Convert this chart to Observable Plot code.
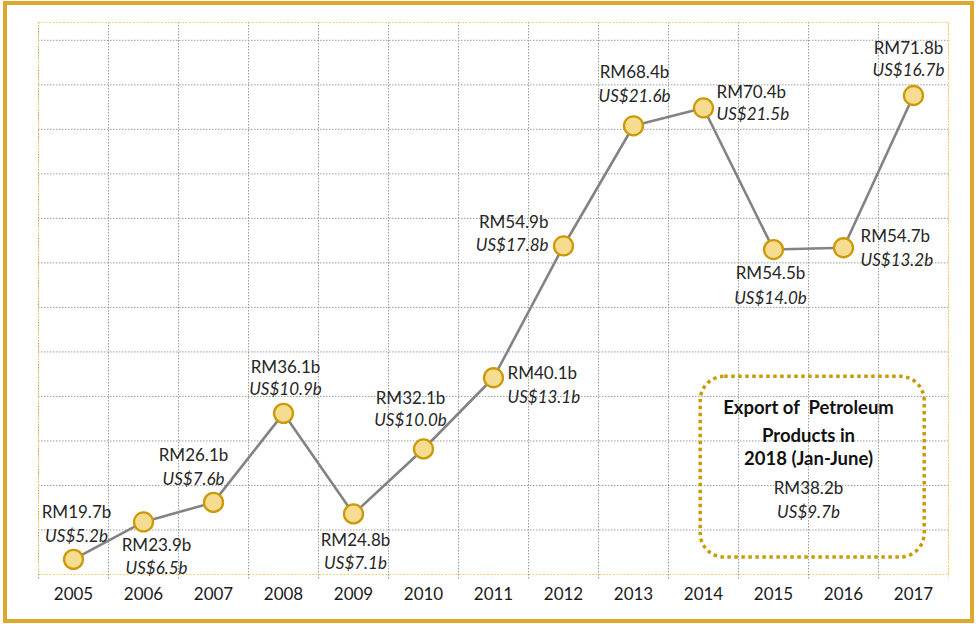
<!DOCTYPE html>
<html><head><meta charset="utf-8">
<script src="https://cdn.jsdelivr.net/npm/d3@7"></script>
<script src="https://cdn.jsdelivr.net/npm/@observablehq/plot@0.6"></script>
<style>
body{margin:0;background:#fff;}
#wrap{position:relative;width:979px;height:624px;overflow:hidden;background:#fff;}
#border{position:absolute;left:3px;top:1px;width:971px;height:622px;box-sizing:border-box;border:4px solid #DCA82E;pointer-events:none;}
#chart{position:absolute;left:0;top:0;}
</style></head><body>
<div id="wrap"><div id="chart"></div><div id="border"></div></div>
<script>
// ---- data ----
const years = [2005, 2006, 2007, 2008, 2009, 2010, 2011, 2012, 2013, 2014, 2015, 2016, 2017];
const yearLabels = ["2005","2006","2007","2008","2009","2010","2011","2012","2013","2014","2015","2016","2017"];
const rmValues = [19.7, 23.9, 26.1, 36.1, 24.8, 32.1, 40.1, 54.9, 68.4, 70.4, 54.5, 54.7, 71.8];
const usValues = [5.2, 6.5, 7.6, 10.9, 7.1, 10.0, 13.1, 17.8, 21.6, 21.5, 14.0, 13.2, 16.7];
const gridValues = [23, 28, 33, 38, 43, 48, 53, 58, 63, 68, 73, 78];
const noteTitle = ["Export of  Petroleum", "Products in", "2018 (Jan-June)"];
const noteRM = "RM38.2b";
const noteUS = "US$9.7b";

// ---- label layout (anchor, dx, dy for RM line, dy for US line) ----
const layout = {
  2005: ["middle", 3, -47, -23],
  2006: ["middle", 13, 24, 47],
  2007: ["middle", -20, -47, -23],
  2008: ["middle", 2, -46, -24],
  2009: ["middle", 2, 27, 50],
  2010: ["middle", -13, -50, -28],
  2011: ["start", 14, -4, 20],
  2012: ["end", -15, -23, 0],
  2013: ["middle", 1, -53, -29],
  2014: ["start", 13, -15, 7],
  2015: ["middle", -3, 24, 49],
  2016: ["start", 17, -11, 13],
  2017: ["middle", -5, -47, -25]
};

const rows = years.map((yr, i) => ({
  year: yr,
  rm: rmValues[i],
  rmText: "RM" + rmValues[i].toFixed(1) + "b",
  usText: "US$" + usValues[i].toFixed(1) + "b"
}));

const boundaries = years.map(y => y - 0.5);
const textColor = "#262626";

const labelMarks = rows.flatMap(r => {
  const [anchor, dx, dyRM, dyUS] = layout[r.year];
  return [
    Plot.text([r], {x: "year", y: "rm", text: "rmText", textAnchor: anchor, dx, dy: dyRM,
      fill: textColor, fontSize: 17}),
    Plot.text([r], {x: "year", y: "rm", text: "usText", textAnchor: anchor, dx, dy: dyUS,
      fill: textColor, fontSize: 17, fontStyle: "italic"})
  ];
});

const noteText = (txt, dy, extra) => Plot.text([txt], {x: () => 2015.5, frameAnchor: "top", lineAnchor: "middle",
  dy, fontSize: 17, fill: textColor, ...extra});

const chart = Plot.plot({
  width: 979,
  height: 624,
  marginLeft: 38,
  marginRight: 31,
  marginTop: 22,
  marginBottom: 50,
  style: {fontFamily: "Lato, 'Open Sans', sans-serif", fontSize: "17px", background: "transparent"},
  x: {domain: [2004.5, 2017.5], axis: null},
  y: {domain: [18, 80], axis: null},
  marks: [
    Plot.ruleY(gridValues, {stroke: "#9c9c9c", strokeWidth: 1, strokeDasharray: "1.5,1.5"}),
    Plot.ruleX(boundaries, {stroke: "#9c9c9c", strokeWidth: 1, strokeDasharray: "1.5,1.5", insetBottom: -5}),
    Plot.ruleX([2017.5], {stroke: "#F0D77E", strokeWidth: 1, strokeDasharray: "1.5,1.5", insetBottom: -5}),
    Plot.frame({stroke: "#F0D27A", strokeWidth: 1.2, strokeDasharray: "2,1.5"}),
    Plot.line(rows, {x: "year", y: "rm", stroke: "#838383", strokeWidth: 2.6}),
    Plot.dot(rows, {x: "year", y: "rm", r: 9.5, fill: "#F6DC90", stroke: "#CC9A06", strokeWidth: 2.3}),
    ...labelMarks,
    Plot.text(years, {x: d => d, text: (d, i) => yearLabels[i], frameAnchor: "bottom", dy: 25,
      fill: "#1a1a1a", fontSize: 17}),
    // annotation box
    Plot.rect([0], {x1: () => 2013.96, x2: () => 2017.16, y1: () => 19.9, y2: () => 40.2,
      rx: 24, fill: "none", stroke: "#C99A0A", strokeWidth: 3.5, strokeDasharray: "3.5,3.5"}),
    noteText(noteTitle[0], 386, {fontWeight: "bold", fontSize: 18.5, fill: "#111"}),
    noteText(noteTitle[1], 414, {fontWeight: "bold", fontSize: 18.5, fill: "#111"}),
    noteText(noteTitle[2], 437, {fontWeight: "bold", fontSize: 18.5, fill: "#111"}),
    noteText(noteRM, 466, {}),
    noteText(noteUS, 490, {fontStyle: "italic"})
  ]
});
document.getElementById("chart").appendChild(chart);
</script>
</body></html>
